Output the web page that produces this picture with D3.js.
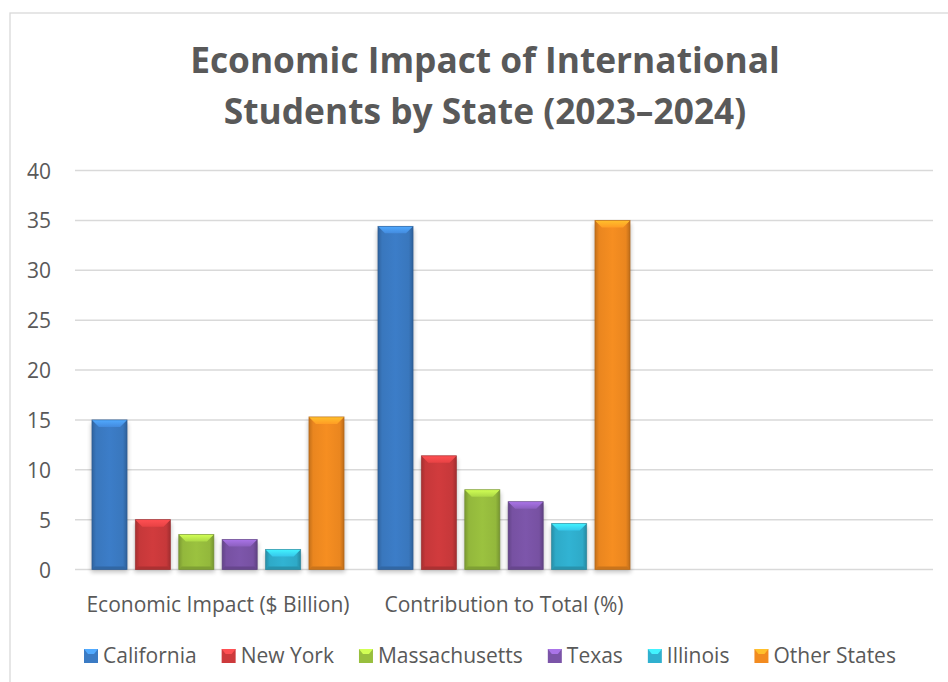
<!DOCTYPE html>
<html><head><meta charset="utf-8">
<script src="https://cdn.jsdelivr.net/npm/d3@7/dist/d3.min.js"></script>
<style>
html,body{margin:0;padding:0;background:#fff;}
svg{display:block;font-family:"Open Sans",sans-serif;}
</style></head>
<body>
<svg id="chart" width="948" height="682"></svg>
<script>
const categories = ["Economic Impact ($ Billion)", "Contribution to Total (%)", ""];
const seriesNames = ["California", "New York", "Massachusetts", "Texas", "Illinois", "Other States"];
const california = [15.0, 34.4];
const newYork = [5.0, 11.4];
const massachusetts = [3.5, 8.0];
const texas = [3.0, 6.8];
const illinois = [2.0, 4.6];
const otherStates = [15.3, 35.0];
const yTicks = [0, 5, 10, 15, 20, 25, 30, 35, 40];
const titleLines = ["Economic Impact of International", "Students by State (2023\u20132024)"];

const seriesValues = [california, newYork, massachusetts, texas, illinois, otherStates];
const colors = ["#3b7bc4", "#cd3a3c", "#98bf3e", "#7b54a8", "#30b0cf", "#f28b20"];

const svg = d3.select("#chart");
const plot = {left: 75, right: 933, top: 170.5, bottom: 569.5};

// chart border (extends past right/bottom edge)
svg.append("rect").attr("x", 10).attr("y", 13).attr("width", 980).attr("height", 720)
  .attr("fill", "#fff").attr("stroke", "#d9d9d9").attr("stroke-width", 1.3);

const defs = svg.append("defs");
const filt = defs.append("filter").attr("id", "shadow").attr("x", "-30%").attr("y", "-30%").attr("width", "160%").attr("height", "160%");
filt.append("feGaussianBlur").attr("stdDeviation", 2);

colors.forEach((c, i) => {
  const base = d3.color(c);
  const g = defs.append("linearGradient").attr("id", "bg" + i).attr("x1", "0").attr("x2", "1").attr("y1", "0").attr("y2", "0");
  g.append("stop").attr("offset", "0%").attr("stop-color", base.darker(0.6));
  g.append("stop").attr("offset", "12%").attr("stop-color", base.darker(0.1));
  g.append("stop").attr("offset", "50%").attr("stop-color", base.brighter(0.05));
  g.append("stop").attr("offset", "88%").attr("stop-color", base.darker(0.1));
  g.append("stop").attr("offset", "100%").attr("stop-color", base.darker(0.7));
  const t = defs.append("linearGradient").attr("id", "tg" + i).attr("x1", "0").attr("x2", "0").attr("y1", "0").attr("y2", "1");
  t.append("stop").attr("offset", "0%").attr("stop-color", base.brighter(0.9));
  t.append("stop").attr("offset", "100%").attr("stop-color", base.brighter(0.35));
});

// title
svg.append("g").selectAll("text").data(titleLines).join("text")
  .attr("x", 485).attr("y", (d, i) => 73 + i * 51)
  .attr("text-anchor", "middle")
  .attr("font-size", 35.3).attr("font-weight", "bold").attr("fill", "#595959")
  .text(d => d);

const x0 = d3.scaleBand().domain(categories).range([plot.left, plot.right]).padding(0);
const x1 = d3.scaleBand().domain(seriesNames).range([0, x0.bandwidth()]).paddingInner(0.19).paddingOuter(0.39);
const y = d3.scaleLinear().domain([0, 40]).range([plot.bottom, plot.top]);

// gridlines
svg.append("g").selectAll("line").data(yTicks).join("line")
  .attr("x1", plot.left).attr("x2", plot.right)
  .attr("y1", d => y(d)).attr("y2", d => y(d))
  .attr("stroke", "#d9d9d9").attr("stroke-width", 1.5);

// y axis labels
const yAxis = d3.axisLeft(y).tickValues(yTicks).tickSize(0).tickPadding(0);
const ya = svg.append("g").attr("transform", `translate(51,0)`).call(yAxis);
ya.select(".domain").remove();
ya.selectAll("text").attr("font-size", 21).attr("fill", "#595959").attr("font-family", "Open Sans").attr("dy", "0.36em");

// category labels
const xAxis = d3.axisBottom(x0).tickSize(0).tickPadding(0);
const xa = svg.append("g").attr("transform", `translate(0,${plot.bottom + 42})`).call(xAxis);
xa.select(".domain").remove();
xa.selectAll("text").attr("font-size", 21).attr("fill", "#595959").attr("font-family", "Open Sans").attr("dy", 0);

// bars
const data = [];
seriesNames.forEach((s, si) => {
  seriesValues[si].forEach((v, ci) => data.push({s, si, cat: categories[ci], v}));
});

const bars = svg.append("g").selectAll("g").data(data).join("g")
  .attr("transform", d => `translate(${x0(d.cat) + x1(d.s)},0)`);

const bw = x1.bandwidth();
const bev = 7, side = 3;
bars.append("rect")
  .attr("x", -1).attr("width", bw + 2)
  .attr("y", d => y(d.v) + 3).attr("height", d => y(0) - y(d.v))
  .attr("fill", "#000").attr("opacity", 0.22).attr("filter", "url(#shadow)");
bars.append("rect")
  .attr("x", 0).attr("width", bw)
  .attr("y", d => y(d.v)).attr("height", d => y(0) - y(d.v))
  .attr("fill", d => `url(#bg${d.si})`);
bars.append("path")
  .attr("d", d => {
    const t = y(d.v);
    return `M0,${t} L${bw},${t} L${bw - bev},${t + bev} L${bev},${t + bev} Z`;
  })
  .attr("fill", d => `url(#tg${d.si})`);
bars.append("path")
  .attr("d", d => {
    const b = y(0);
    return `M0,${b} L${bw},${b} L${bw - side},${b - side} L${side},${b - side} Z`;
  })
  .attr("fill", d => d3.color(colors[d.si]).darker(0.5));
bars.append("rect")
  .attr("x", 0).attr("width", bw)
  .attr("y", d => y(d.v)).attr("height", d => y(0) - y(d.v))
  .attr("fill", "none").attr("stroke", d => d3.color(colors[d.si]).darker(0.9)).attr("stroke-width", 0.8).attr("stroke-opacity", 0.7);

// legend
const legend = svg.append("g");
const items = legend.selectAll("g").data(seriesNames).join("g");
items.append("rect").attr("x", 0).attr("y", -14).attr("width", 14).attr("height", 14)
  .attr("fill", (d, i) => colors[i]);
items.append("path").attr("d", "M0,-14 L14,-14 L10,-9 L4,-9 Z")
  .attr("fill", (d, i) => d3.color(colors[i]).brighter(0.9));
items.append("text").attr("x", 19).attr("y", 0).attr("font-size", 21).attr("fill", "#595959").text(d => d);
let cx = 84;
items.each(function() {
  const g = d3.select(this);
  g.attr("transform", `translate(${cx},663)`);
  const tw = g.select("text").node().getComputedTextLength();
  cx += 19 + tw + 25;
});
</script>
</body></html>
